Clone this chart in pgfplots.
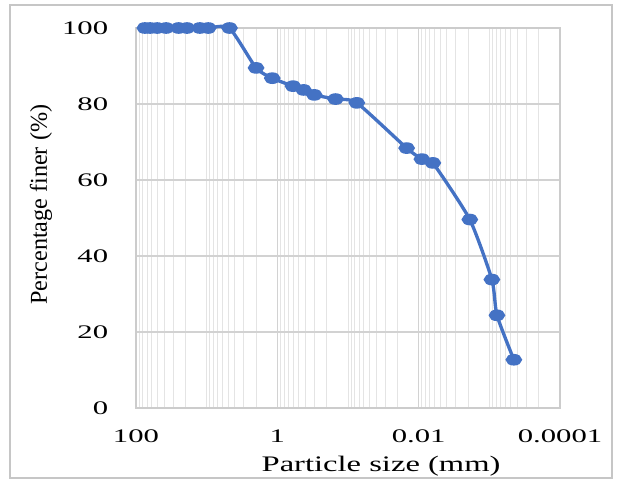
\documentclass[border=0pt]{standalone}
\usepackage{fontspec}
\setmainfont{Liberation Serif}
\usepackage{graphicx}
\usepackage{pgfplots}
\pgfplotsset{compat=1.18}
\definecolor{xlblue}{RGB}{68,114,196}
\definecolor{gridmaj}{RGB}{210,210,210}
\definecolor{gridmin}{RGB}{228,228,228}
\begin{document}
\begin{tikzpicture}
\path (-81.6pt,-45.6pt) rectangle (292.2pt,244.8pt);
\draw[gray!45, line width=0.8pt] (-75.6pt,-42pt) rectangle (285.6pt,241.8pt);
\begin{axis}[
  at={(0,0)}, anchor=south west,
  scale only axis, width=254.4pt, height=228pt,
  xmode=log, log basis x=10, x dir=reverse,
  xmin=0.0001, xmax=100, ymin=0, ymax=100,
  xtick={100,1,0.01,0.0001},
  xticklabels={\scalebox{1.6}[1]{100},\scalebox{1.6}[1]{1},\scalebox{1.6}[1]{0.01},\scalebox{1.6}[1]{0.0001}},
  minor xtick={20,30,40,50,60,70,80,90,10,2,3,4,5,6,7,8,9,0.1,0.2,0.3,0.4,0.5,0.6,0.7,0.8,0.9,0.02,0.03,0.04,0.05,0.06,0.07,0.08,0.09,0.001,0.002,0.003,0.004,0.005,0.006,0.007,0.008,0.009,0.0002,0.0003,0.0004,0.0005,0.0006,0.0007,0.0008,0.0009},
  ytick={0,20,40,60,80,100},
  yticklabel={\scalebox{1.6}[1]{\pgfmathprintnumber{\tick}}},
  major tick length=0pt, minor tick length=0pt,
  xmajorgrids, xminorgrids, ymajorgrids,
  major grid style={gridmaj, line width=0.8pt},
  minor grid style={gridmin, line width=0.5pt},
  axis line style={gray!40, line width=0.8pt},
  tick label style={font=\fontsize{11.5}{13}\selectfont, text=black},
  xticklabel style={anchor=north, inner sep=0pt, yshift=-13pt},
  yticklabel style={anchor=east, inner sep=0pt, xshift=-16.5pt},
  /pgf/number format/assume math mode=true,
  xlabel={\scalebox{1.47}[1]{Particle size (mm)}},
  xlabel style={at={(axis description cs:0.578,-0.153)}, anchor=center, font=\fontsize{13.3}{15}\selectfont},
  ylabel={Percentage finer (\%)},
  ylabel style={at={(axis description cs:-0.224,0.535)}, anchor=center, font=\fontsize{14.5}{16}\selectfont},
  clip=false,
]
\addplot[xlblue, line width=2pt, smooth, tension=0.35,
  mark=*, mark size=2.5pt, mark options={xscale=1.55, fill=xlblue, draw=xlblue, solid}]
  coordinates {
  (75,100) (63,100) (50,100) (37.5,100) (25,100) (19,100) (12.5,100) (9.5,100)
  (4.75,100) (2,89.5) (1.18,86.8) (0.6,84.7) (0.425,83.7) (0.3,82.4)
  (0.15,81.3) (0.075,80.3) (0.0148,68.4) (0.009,65.5) (0.0063,64.5)
  (0.00189,49.6) (0.00092,33.8) (0.00078,24.4) (0.00045,12.7)
  };
\end{axis}
\end{tikzpicture}
\end{document}
